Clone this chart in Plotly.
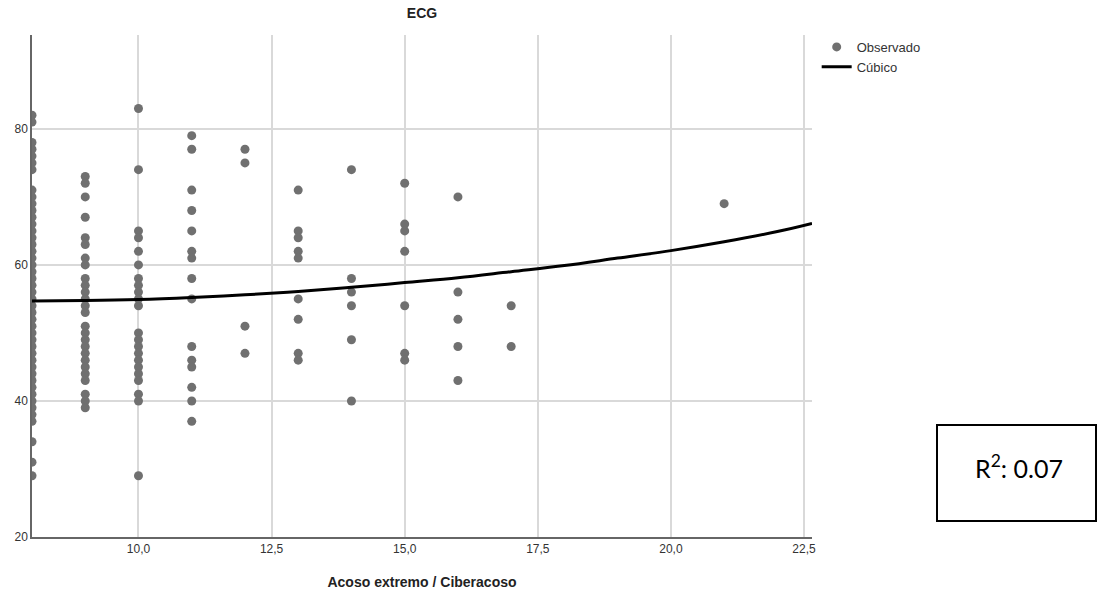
import plotly.graph_objects as go

# Observed data: x value -> list of y values
x8 = [82, 81, 78, 77, 76, 75, 74] + list(range(71, 36, -1)) + [34, 31, 29]
x9 = [73, 72, 70, 67, 64, 63, 61, 60, 58, 57, 56, 55, 54, 53, 51, 50, 49, 48, 47, 46, 45, 44, 43, 41, 40, 39]
x10 = [83, 74, 65, 64, 62, 60, 58, 57, 56, 55, 54, 50, 49, 48, 47, 46, 45, 44, 43, 41, 40, 29]
x11 = [79, 77, 71, 68, 65, 62, 61, 58, 55, 48, 46, 45, 42, 40, 37]
x12 = [77, 75, 51, 47]
x13 = [71, 65, 64, 62, 61, 55, 52, 47, 46]
x14 = [74, 58, 56, 54, 49, 40]
x15 = [72, 66, 65, 62, 54, 47, 46]
x16 = [70, 56, 52, 48, 43]
x17 = [54, 48]
x21 = [69]

groups = {8: x8, 9: x9, 10: x10, 11: x11, 12: x12, 13: x13, 14: x14,
          15: x15, 16: x16, 17: x17, 21: x21}

# Cubic fit curve values
fit_x = [8, 9, 10, 11, 12, 13, 14, 15, 16, 17, 18, 19, 20, 21, 22, 22.65]
fit_y = [54.7, 54.75, 54.9, 55.2, 55.6, 56.1, 56.7, 57.4, 58.1, 59.0, 59.9, 61.0, 62.1, 63.4, 64.9, 66.1]

x_ticks = [10, 12.5, 15, 17.5, 20, 22.5]
x_ticktext = ["10,0", "12,5", "15,0", "17,5", "20,0", "22,5"]
y_ticks = [20, 40, 60, 80]

obs_x, obs_y = [], []
for k, vals in groups.items():
    obs_x += [k] * len(vals)
    obs_y += vals

fig = go.Figure()
fig.add_trace(go.Scatter(
    x=obs_x, y=obs_y, mode="markers", name="Observado",
    marker=dict(color="#707070", size=9, line=dict(width=0)),
    cliponaxis=True,
))
fig.add_trace(go.Scatter(
    x=fit_x, y=fit_y, mode="lines", name="Cúbico",
    line=dict(color="black", width=3, shape="spline"),
))

font_main = "Liberation Sans, Arial, sans-serif"

fig.update_layout(
    width=1098, height=600,
    margin=dict(l=32, r=286, t=35, b=63),
    paper_bgcolor="white", plot_bgcolor="white",
    title=dict(text="<b>ECG</b>", x=(32 + 812) / 2 / 1098, xanchor="center",
               y=1 - 13 / 600, yanchor="middle",
               font=dict(family=font_main, size=14, color="#222")),
    font=dict(family=font_main, size=12, color="#333"),
    showlegend=True,
    legend=dict(x=1.006, y=1.006, xanchor="left", yanchor="top",
                font=dict(family=font_main, size=13, color="#333"),
                bgcolor="rgba(0,0,0,0)", tracegroupgap=0, itemwidth=30),
    xaxis=dict(range=[8, 22.65], tickvals=x_ticks, ticktext=x_ticktext,
               showgrid=True, gridcolor="#d9d9d9", gridwidth=1.5,
               showline=True, linecolor="#666", linewidth=1.5,
               zeroline=False, ticks="", tickfont=dict(size=12, color="#333"),
               automargin=False,
               title=dict(text="<b>Acoso extremo / Ciberacoso</b>",
                          font=dict(family=font_main, size=14, color="#222"),
                          standoff=22)),
    yaxis=dict(range=[20, 93.8], tickvals=y_ticks,
               showgrid=True, gridcolor="#d9d9d9", gridwidth=1.5,
               showline=True, linecolor="#666", linewidth=1.5,
               zeroline=False, ticks="", tickfont=dict(size=12, color="#333"),
               automargin=False),
)

# R^2 box
fig.add_shape(type="rect", xref="paper", yref="paper",
              x0=(937 - 32) / 780, x1=(1096 - 32) / 780,
              y0=(537 - 521) / 502, y1=(537 - 425) / 502,
              line=dict(color="black", width=2), fillcolor="white")
fig.add_annotation(xref="paper", yref="paper",
                   x=(1019 - 32) / 780, y=(537 - 466) / 502,
                   xanchor="center", yanchor="middle",
                   text="R<sup>2</sup>: 0.07", showarrow=False,
                   font=dict(family="Lato, Open Sans, sans-serif", size=25, color="black"))

fig.write_html("out.html", config={"displayModeBar": False},
               post_script="document.body.style.margin='0px';")
